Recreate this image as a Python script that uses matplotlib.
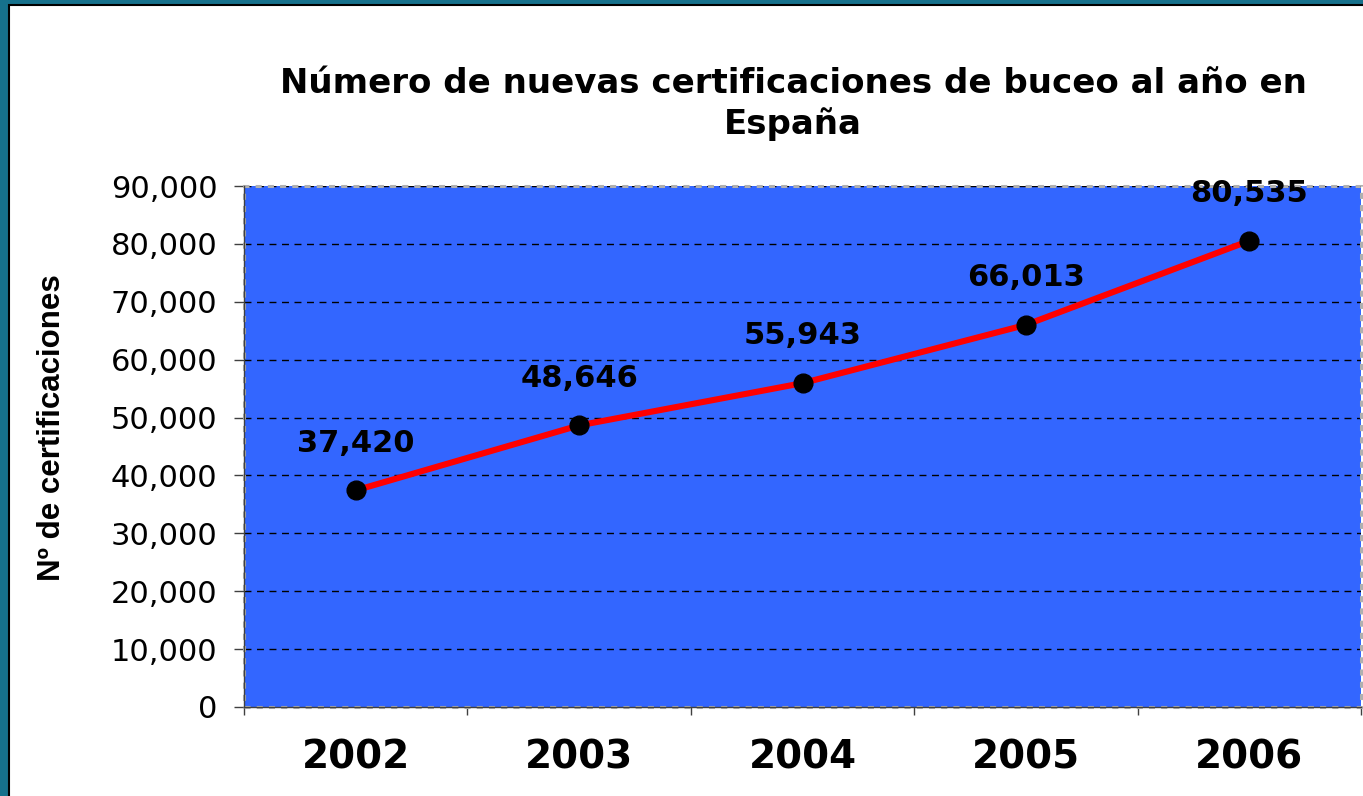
import numpy as np
import matplotlib.pyplot as plt
from matplotlib.patches import Rectangle

# -----------------------------
# DATA
# -----------------------------

years = ["2002", "2003", "2004", "2005", "2006"]
certificaciones = [37420, 48646, 55943, 66013, 80535]
value_labels = ["37,420", "48,646", "55,943", "66,013", "80,535"]
y_ticks = [0, 10000, 20000, 30000, 40000, 50000, 60000, 70000, 80000, 90000]

TITLE = "Número de nuevas certificaciones de buceo al año en\nEspaña"
YLABEL = "Nº de certificaciones"

# -----------------------------
# FIGURE
# -----------------------------

W, H = 1363, 796
fig = plt.figure(figsize=(W / 100, H / 100), dpi=100)
fig.patch.set_facecolor("#16718c")

# white slide panel with black frame (behind everything)
panel = Rectangle((9 / W, -0.05), 1.0, 1.05 - 5 / H,
                  transform=fig.transFigure, facecolor="white",
                  edgecolor="black", linewidth=1.5, zorder=-10)
fig.patches.append(panel)

left, right = 244 / W, 1361 / W
bottom, top = (H - 707) / H, (H - 186) / H
ax = fig.add_axes([left, bottom, right - left, top - bottom])
ax.set_zorder(5)
ax.set_facecolor("#3366ff")

x = np.arange(len(years))

# grid
for yv in y_ticks[1:]:
    ax.axhline(yv, color="black", lw=1, ls=(0, (5, 4)), zorder=1)

ax.plot(x, certificaciones, color="#ff0000", lw=4.4, zorder=3,
        solid_capstyle="round")
ax.plot(x, certificaciones, ls="none", marker="o", ms=13.5,
        color="black", zorder=4)

for xi, yi, lab in zip(x, certificaciones, value_labels):
    ax.annotate(lab, (xi, yi), xytext=(0, 34), textcoords="offset points",
                ha="center", va="center", fontsize=22, fontweight="bold",
                family="DejaVu Sans", zorder=5)

ax.set_xlim(-0.5, len(years) - 0.5)
ax.set_ylim(0, 90000)

# y axis
ax.set_yticks(y_ticks)
ax.set_yticklabels([f"{v:,}" for v in y_ticks], fontsize=22,
                   family="DejaVu Sans")
ax.tick_params(axis="y", direction="out", length=7, width=1,
               color="#404040", pad=12)

# x axis: labels at centres, ticks at boundaries
ax.set_xticks(x)
ax.set_xticklabels(years, fontsize=28, fontweight="bold",
                   family="DejaVu Sans")
ax.tick_params(axis="x", which="major", length=0, pad=23)
ax.set_xticks(np.arange(-0.5, len(years)), minor=True)
ax.tick_params(axis="x", which="minor", direction="out", length=6,
               width=1, color="#404040")

for s in ["top", "right"]:
    ax.spines[s].set_visible(False)
for s in ["left", "bottom"]:
    ax.spines[s].set_color("#404040")
    ax.spines[s].set_linewidth(1)

# gray dotted plot-area border
border = Rectangle((0, 0), 1, 1, transform=ax.transAxes, fill=False,
                   edgecolor="#b0b0b0", lw=2.2, ls=(0, (2, 2)),
                   clip_on=False, zorder=2)
ax.add_patch(border)

fig.text(793 / W, 1 - 104 / H, TITLE, ha="center", va="center",
         fontsize=24.5, fontweight="bold", family="DejaVu Sans",
         linespacing=1.3)

fig.text(52 / W, 1 - 428 / H, YLABEL, rotation=90, ha="center",
         va="center", fontsize=22.5, fontweight="bold",
         family="Liberation Sans")

fig.savefig("out.png", dpi=100, facecolor=fig.get_facecolor())
